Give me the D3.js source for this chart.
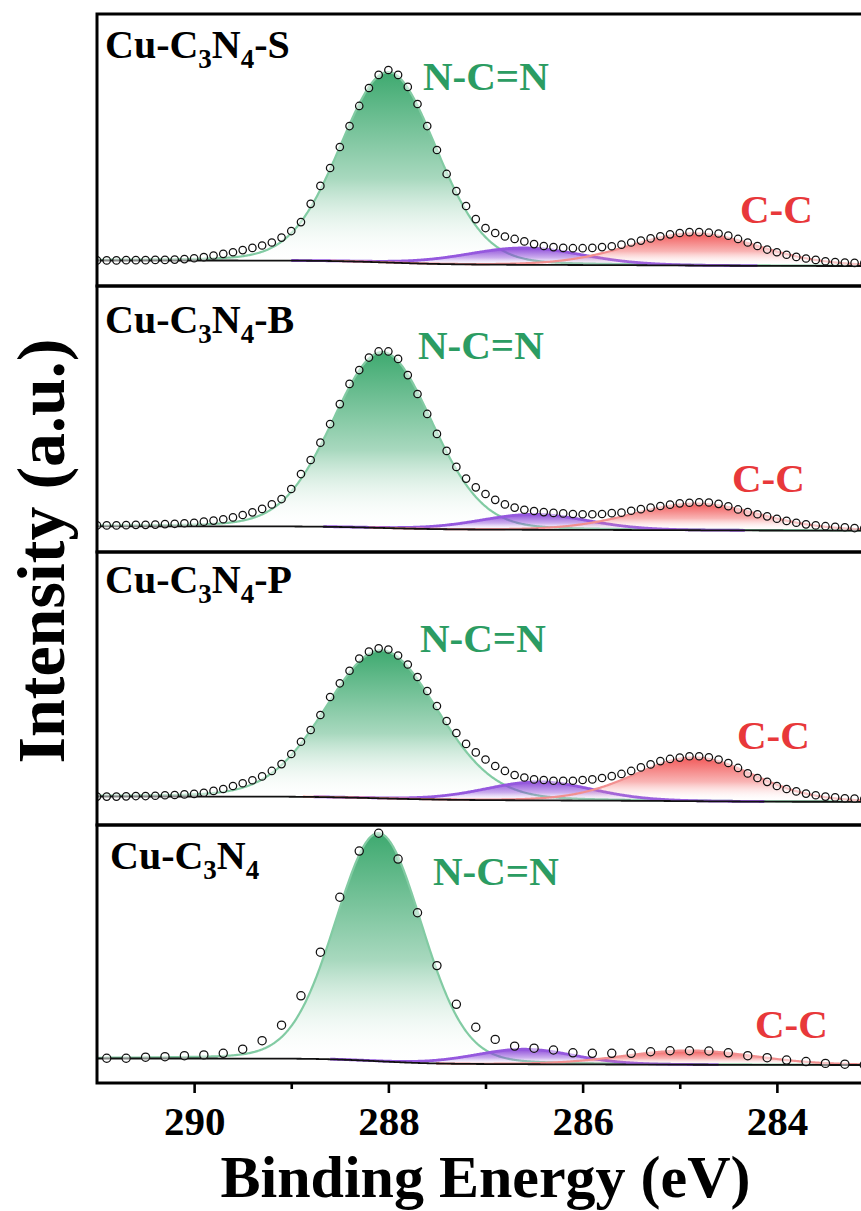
<!DOCTYPE html>
<html>
<head>
<meta charset="utf-8">
<script src="https://cdn.jsdelivr.net/npm/d3@7"></script>
<style>
  html, body { margin: 0; padding: 0; background: #ffffff; }
  svg { display: block; }
</style>
</head>
<body>
<svg id="chart" width="861" height="1211"></svg>
<script>
// ---------------- C 1s spectra, four samples (top to bottom) ----------------
const sampleBase = "Cu-C";
const sampleSuffix = ["-S", "-B", "-P", ""];

// Measured energies: first point and step (eV) of each scan
const scanStart = [291.0, 291.0, 291.0, 290.9];
const scanStep  = [0.1, 0.1, 0.1, 0.2];

// Measured intensities (a.u.), one value per energy, high BE -> low BE
const countsS = [
  9.4, 9.4, 9.4, 9.5, 9.5, 9.5, 9.6, 9.6, 9.7, 9.9,
  10.2, 10.6, 11.2, 11.8, 12.4, 13.2, 14.0, 14.9, 16.0, 17.8,
  20.2, 23.5, 30.2, 36.8, 43.4, 51.1, 58.8, 66.2, 72.8, 77.6,
  79.4, 77.6, 73.2, 66.9, 58.8, 50.0, 41.2, 34.9, 29.4, 24.6,
  21.3, 19.5, 18.2, 17.3, 16.4, 15.4, 14.7, 14.3, 14.0, 13.9,
  13.9, 14.0, 14.3, 14.6, 15.2, 16.0, 16.7, 17.5, 18.3, 19.0,
  19.5, 19.8, 19.8, 19.6, 19.3, 18.5, 17.3, 16.0, 14.7, 13.4,
  12.4, 11.5, 10.7, 10.1, 9.6, 9.1, 8.8, 8.6, 8.5, 8.4
];
const countsB = [
  10.0, 10.0, 10.0, 10.1, 10.2, 10.2, 10.3, 10.5, 10.6, 10.8,
  11.0, 11.4, 11.8, 12.3, 13.0, 13.9, 14.9, 16.2, 17.9, 19.9,
  23.7, 29.3, 34.6, 41.1, 48.1, 55.6, 63.2, 68.4, 73.1, 75.4,
  75.4, 72.6, 66.5, 59.4, 51.9, 44.4, 38.0, 32.0, 27.6, 24.3,
  21.8, 19.6, 17.9, 16.7, 15.9, 15.4, 15.0, 14.7, 14.5, 14.3,
  14.2, 14.2, 14.3, 14.6, 14.8, 15.5, 16.1, 16.7, 17.3, 17.8,
  18.3, 18.5, 18.7, 18.6, 18.1, 17.2, 16.0, 15.0, 14.2, 13.4,
  12.5, 11.7, 11.0, 10.4, 10.0, 9.7, 9.5, 9.3, 9.0, 8.9
];
const countsP = [
  10.4, 10.4, 10.4, 10.5, 10.6, 10.6, 10.7, 10.9, 11.0, 11.2,
  11.4, 11.8, 12.5, 13.2, 14.3, 15.3, 16.4, 17.8, 19.8, 22.3,
  26.0, 30.5, 34.8, 40.3, 46.9, 51.9, 56.5, 61.0, 63.5, 64.7,
  64.3, 62.1, 58.8, 54.2, 49.1, 43.6, 38.1, 33.7, 29.7, 26.6,
  24.0, 21.6, 19.8, 18.3, 17.4, 16.7, 16.5, 16.2, 16.2, 16.2,
  16.5, 16.7, 17.2, 17.9, 18.7, 19.8, 21.1, 22.2, 23.4, 24.2,
  24.7, 25.2, 25.2, 24.8, 24.0, 22.7, 20.9, 18.9, 17.2, 15.8,
  14.3, 13.2, 12.3, 11.5, 10.9, 10.4, 10.1, 9.8, 9.7, 9.5
];
const countsPlain = [
  9.6, 9.6, 10.0, 10.2, 10.6, 10.9, 11.5, 13.1, 16.4, 22.4,
  33.8, 50.7, 72.0, 89.9, 96.8, 86.8, 66.0, 45.5, 30.5, 21.6,
  16.9, 14.3, 13.5, 12.8, 11.7, 11.5, 11.5, 11.5, 12.1, 12.5,
  12.5, 12.4, 11.7, 10.6, 9.8, 8.9, 8.3, 7.6, 7.3, 7.0
];
const counts = [countsS, countsB, countsP, countsPlain];

// Shirley background end levels (high-BE side, low-BE side)
const bgHigh = [9.38, 9.66, 10.44, 9.50];
const bgLow  = [7.35, 8.05, 8.50, 6.98];

// Fitted components: centre (eV), height (a.u.), FWHM (eV)
const ncnCenter = [288.00, 288.06, 288.07, 288.10];
const ncnHeight = [70.0, 66.1, 54.2, 88.4];
const ncnFwhm   = [1.17, 1.21, 1.36, 1.05];
const midCenter = [286.60, 286.50, 286.45, 286.60];
const midHeight = [6.2, 5.8, 6.8, 5.8];
const midFwhm   = [1.40, 1.30, 1.30, 1.20];
const ccCenter  = [284.85, 284.83, 284.85, 284.90];
const ccHeight  = [11.8, 10.0, 16.0, 5.5];
const ccFwhm    = [1.58, 1.55, 1.45, 1.60];
const lorentzShare = 0.1;

// Axis ticks
const majorTicks = [290, 288, 286, 284];
const minorTicks = [289, 287, 285, 283];

// ---------------- layout ----------------
const serif = '"Liberation Serif", "Times New Roman", serif';
const svg = d3.select("#chart");
const plotLeft = 97, plotRight = 874;
const panelTop = [14, 286, 552, 825];
const panelBottom = [286, 552, 825, 1083];
const nameX = [105, 105, 105, 110], nameY = [58, 333, 593, 869];
const ncnX = [423, 418, 420, 433], ncnY = [90, 359, 652, 885];
const ccX = [740, 732, 737, 755], ccY = [223, 492, 749, 1038];

function serifText(sel, size) {
  return sel.style("font-family", serif).attr("font-weight", "bold").attr("font-size", size);
}

const x = d3.scaleLinear().domain([291, 283]).range([plotLeft, plotRight]);

const defs = svg.append("defs");
function addGradient(id, color, topOpacity) {
  const g = defs.append("linearGradient").attr("id", id)
    .attr("x1", 0).attr("y1", 0).attr("x2", 0).attr("y2", 1);
  g.append("stop").attr("offset", "0%").attr("stop-color", color).attr("stop-opacity", topOpacity);
  g.append("stop").attr("offset", "55%").attr("stop-color", color).attr("stop-opacity", topOpacity * 0.45);
  g.append("stop").attr("offset", "100%").attr("stop-color", "#ffffff").attr("stop-opacity", 0);
}
addGradient("gGreen", "#34a568", 0.95);
addGradient("gPurple", "#8a45d8", 0.95);
addGradient("gRed", "#f04848", 0.9);

const compStyle = [
  { fill: "url(#gGreen)", stroke: "#82cba3", width: 2.2 },
  { fill: "url(#gPurple)", stroke: "#9558de", width: 2.8 },
  { fill: "url(#gRed)", stroke: "#f29090", width: 2.2 }
];

function peakShape(e, c, h, w) {
  const d = (e - c) / w;
  return h * ((1 - lorentzShare) * Math.exp(-4 * Math.LN2 * d * d) + lorentzShare / (1 + 4 * d * d));
}

// energy grid for fitted curves, low BE -> high BE
const fitGrid = d3.range(0, 801).map(k => 283 + k * 0.01);

counts.forEach((vals, i) => {
  const top = panelTop[i], bottom = panelBottom[i];
  const y = d3.scaleLinear().domain([0, 100]).range([bottom, top]);
  const g = svg.append("g");

  const clipId = "clip" + i;
  defs.append("clipPath").attr("id", clipId)
    .append("rect").attr("x", plotLeft).attr("y", top)
    .attr("width", plotRight - plotLeft).attr("height", bottom - top);
  const inner = g.append("g").attr("clip-path", `url(#${clipId})`);

  const peaks = [
    [ncnCenter[i], ncnHeight[i], ncnFwhm[i]],
    [midCenter[i], midHeight[i], midFwhm[i]],
    [ccCenter[i], ccHeight[i], ccFwhm[i]]
  ];
  const comps = peaks.map(p => fitGrid.map(e => peakShape(e, p[0], p[1], p[2])));
  const sumFit = fitGrid.map((e, k) => d3.sum(comps, c => c[k]));
  // Shirley-type step: background follows the integrated peak area
  let acc = 0;
  const cumArea = sumFit.map(v => (acc += v));
  const bg = cumArea.map(a => bgLow[i] + (bgHigh[i] - bgLow[i]) * a / acc);

  comps.forEach((comp, ci) => {
    const pts = fitGrid.map((e, k) => ({ e, b: bg[k], v: comp[k] }));
    inner.append("path").datum(pts)
      .attr("fill", compStyle[ci].fill)
      .attr("d", d3.area().x(d => x(d.e)).y0(d => y(d.b)).y1(d => y(d.b + d.v)));
    inner.append("path").datum(pts.filter(d => d.v > 0.05))
      .attr("fill", "none").attr("stroke", compStyle[ci].stroke).attr("stroke-width", compStyle[ci].width)
      .attr("d", d3.line().x(d => x(d.e)).y(d => y(d.b + d.v)));
  });

  // background
  inner.append("path").datum(fitGrid.map((e, k) => ({ e, b: bg[k] })))
    .attr("fill", "none").attr("stroke", "#111").attr("stroke-width", 1.8)
    .attr("d", d3.line().x(d => x(d.e)).y(d => y(d.b)));

  // measured points
  const r = i === 3 ? 4.1 : 3.7;
  inner.selectAll("circle.pt").data(vals).join("circle")
    .attr("class", "pt")
    .attr("cx", (v, k) => x(scanStart[i] - k * scanStep[i]))
    .attr("cy", v => y(v))
    .attr("r", r)
    .attr("fill", "#ffffff").attr("fill-opacity", 0.5)
    .attr("stroke", "#111").attr("stroke-width", 1.25);

  // frame
  g.append("rect").attr("x", plotLeft).attr("y", top)
    .attr("width", plotRight - plotLeft).attr("height", bottom - top)
    .attr("fill", "none").attr("stroke", "#000").attr("stroke-width", 3);

  // sample name with subscripts
  const nm = serifText(g.append("text").attr("x", nameX[i]).attr("y", nameY[i]).attr("fill", "#000"), 40);
  nm.append("tspan").text(sampleBase);
  nm.append("tspan").attr("dy", 10).attr("font-size", 27).text("3");
  nm.append("tspan").attr("dy", -10).text("N");
  nm.append("tspan").attr("dy", 10).attr("font-size", 27).text("4");
  if (sampleSuffix[i]) nm.append("tspan").attr("dy", -10).text(sampleSuffix[i]);

  serifText(g.append("text").attr("x", ncnX[i]).attr("y", ncnY[i]), 41)
    .attr("fill", "#2b9c62").text("N-C=N");
  serifText(g.append("text").attr("x", ccX[i]).attr("y", ccY[i]), 41)
    .attr("fill", "#e8383a").text("C-C");
});

// bottom axis
const axisY = panelBottom[3];
const axisG = svg.append("g").attr("transform", `translate(0,${axisY})`);
axisG.call(d3.axisBottom(x).tickValues(majorTicks).tickSize(10).tickFormat(d3.format("d")));
axisG.select(".domain").remove();
axisG.selectAll(".tick line").attr("stroke", "#000").attr("stroke-width", 2.6);
serifText(axisG.selectAll(".tick text").attr("y", 52).attr("dy", 0).attr("fill", "#000"), 41);
const minorG = svg.append("g").attr("transform", `translate(0,${axisY})`);
minorG.call(d3.axisBottom(x).tickValues(minorTicks).tickSize(6).tickFormat(""));
minorG.select(".domain").remove();
minorG.selectAll(".tick line").attr("stroke", "#000").attr("stroke-width", 2.6);

// axis titles
serifText(svg.append("text").attr("x", (plotLeft + plotRight) / 2).attr("y", 1197)
  .attr("text-anchor", "middle").attr("fill", "#000"), 60)
  .text("Binding Energy (eV)");
serifText(svg.append("text").attr("transform", "translate(64,551) rotate(-90)")
  .attr("text-anchor", "middle").attr("fill", "#000"), 68)
  .text("Intensity (a.u.)");
</script>
</body>
</html>
